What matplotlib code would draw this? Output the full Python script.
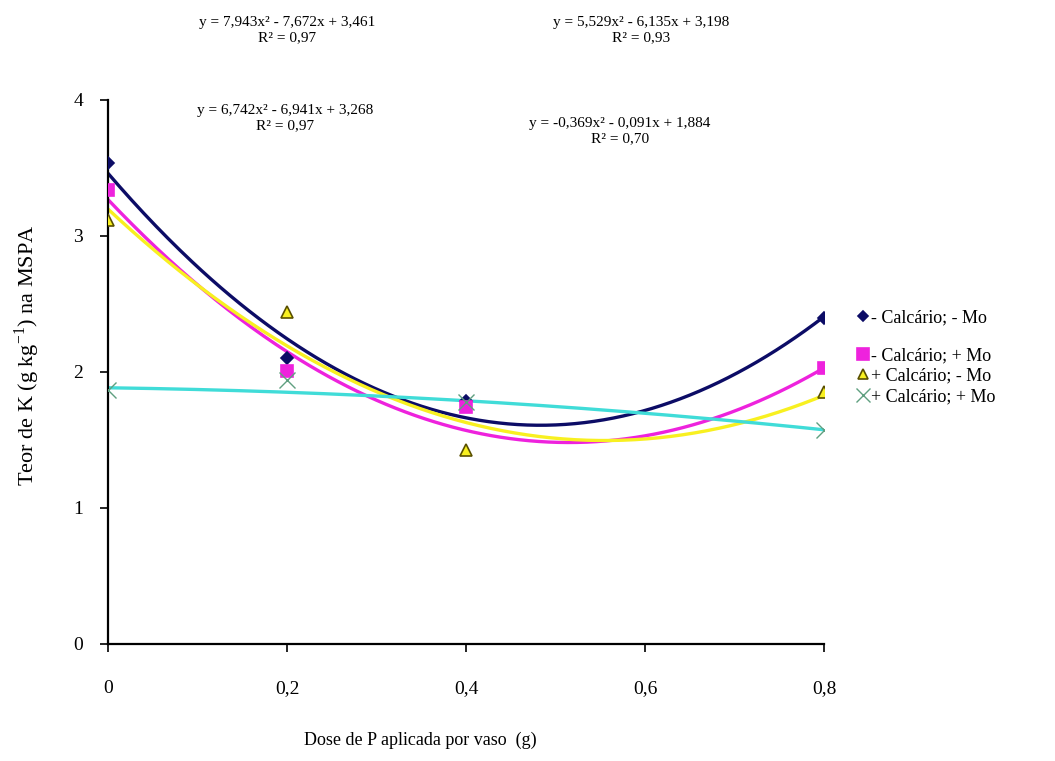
import numpy as np
import matplotlib
matplotlib.use("Agg")
import matplotlib.pyplot as plt
from matplotlib.lines import Line2D

plt.rcParams['font.family'] = ['Liberation Serif', 'DejaVu Serif']
plt.rcParams['mathtext.fontset'] = 'custom'
plt.rcParams['mathtext.rm'] = 'Liberation Serif'

# ---- data ----
doses = [0.0, 0.2, 0.4, 0.8]
series_labels = ['- Calcário; - Mo', '- Calcário; + Mo', '+ Calcário; - Mo', '+ Calcário; + Mo']
teor_menosC_menosMo = [3.54, 2.10, 1.79, 2.40]
teor_menosC_maisMo = [3.34, 2.01, 1.74, 2.03]
teor_maisC_menosMo = [3.12, 2.44, 1.43, 1.85]
teor_maisC_maisMo = [1.87, 1.94, 1.78, 1.57]
# quadratic coefficients (a, b, c) shown on the chart
coef_menosC_menosMo = [7.943, -7.672, 3.461]
coef_menosC_maisMo = [6.742, -6.941, 3.268]
coef_maisC_menosMo = [5.529, -6.135, 3.198]
coef_maisC_maisMo = [-0.369, -0.091, 1.884]
eq_texts = [
    "y = 7,943x² - 7,672x + 3,461\nR² = 0,97",
    "y = 6,742x² - 6,941x + 3,268\nR² = 0,97",
    "y = 5,529x² - 6,135x + 3,198\nR² = 0,93",
    "y = -0,369x² - 0,091x + 1,884\nR² = 0,70",
]
xticks = [0, 0.2, 0.4, 0.6, 0.8]
xtick_labels = ['0', '0,2', '0,4', '0,6', '0,8']
yticks = [0, 1, 2, 3, 4]

# ---- style ----
values = [teor_menosC_menosMo, teor_menosC_maisMo, teor_maisC_menosMo, teor_maisC_maisMo]
coefs = [coef_menosC_menosMo, coef_menosC_maisMo, coef_maisC_menosMo, coef_maisC_maisMo]
line_colors = ['#0c0c66', '#ee22dd', '#f8f020', '#40dcd8']
markers = ['D', 's', '^', 'x']
m_face = ['#0c0c66', '#ee22dd', '#f8f020', 'none']
m_edge = ['#0c0c66', '#ee22dd', '#5a5000', '#5f9f80']
m_size = [6, 9, 8, 12]
eq_pos = [(287, 30), (285, 118), (641, 30), (620, 131)]

W, H = 1055, 761
fig = plt.figure(figsize=(W / 100, H / 100), dpi=100)
ax = fig.add_axes([108 / W, 1 - 644 / H, (824 - 108) / W, (644 - 100) / H])

xs = np.linspace(0, 0.8, 300)
for i in range(4):
    ax.plot(xs, np.polyval(coefs[i], xs), color=line_colors[i], lw=2.4, zorder=2 + i * 0.1, solid_capstyle='round')
for i in range(4):
    if markers[i] == 'x':
        ax.plot(doses, values[i], linestyle='none', marker='x', ms=m_size[i],
                mec=m_edge[i], mew=1.0, zorder=5)
    else:
        ax.plot(doses, values[i], linestyle='none', marker=markers[i], ms=m_size[i],
                mfc=m_face[i], mec=m_edge[i], mew=1.2, zorder=5)

ax.set_xlim(0, 0.8)
ax.set_ylim(0, 4)
ax.set_xticks(xticks)
ax.set_xticklabels(xtick_labels)
ax.set_yticks(yticks)
for s in ['top', 'right']:
    ax.spines[s].set_visible(False)
for s in ['left', 'bottom']:
    ax.spines[s].set_linewidth(1.6)
    ax.spines[s].set_color('black')
ax.tick_params(axis='x', direction='out', length=6, width=1.2, pad=20, labelsize=14)
ax.tick_params(axis='y', direction='out', length=6, width=1.2, pad=12, labelsize=14)

fig.text(27 / W, 1 - 355 / H, "Teor de K (g kg$^{\\mathrm{-1}}$) na MSPA", rotation=90,
         ha='center', va='center', fontsize=16)
fig.text(420 / W, 1 - 740 / H, "Dose de P aplicada por vaso  (g)", ha='center', va='center', fontsize=13)

for k, (px, py) in enumerate(eq_pos):
    fig.text(px / W, 1 - py / H, eq_texts[k], ha='center', va='center',
             fontsize=11, linespacing=1.25)

handles = []
for i in range(4):
    if markers[i] == 'x':
        h = Line2D([], [], linestyle='none', marker='x', ms=10, mec=m_edge[i], mew=1.0)
    else:
        h = Line2D([], [], linestyle='none', marker=markers[i], ms=m_size[i] - 1,
                   mfc=m_face[i], mec=m_edge[i], mew=1.2)
    handles.append(h)

fig.legend([handles[0]], [series_labels[0]], loc='center left',
           bbox_to_anchor=(858 / W, 1 - 318 / H), frameon=False, fontsize=13,
           handlelength=0.6, handletextpad=0.1, borderpad=0, borderaxespad=0)
fig.legend(handles[1:], series_labels[1:], loc='upper left',
           bbox_to_anchor=(858 / W, 1 - 347 / H), frameon=False, fontsize=13,
           handlelength=0.6, handletextpad=0.1, borderpad=0, borderaxespad=0,
           labelspacing=0.2)

fig.savefig("out.png", dpi=100)
